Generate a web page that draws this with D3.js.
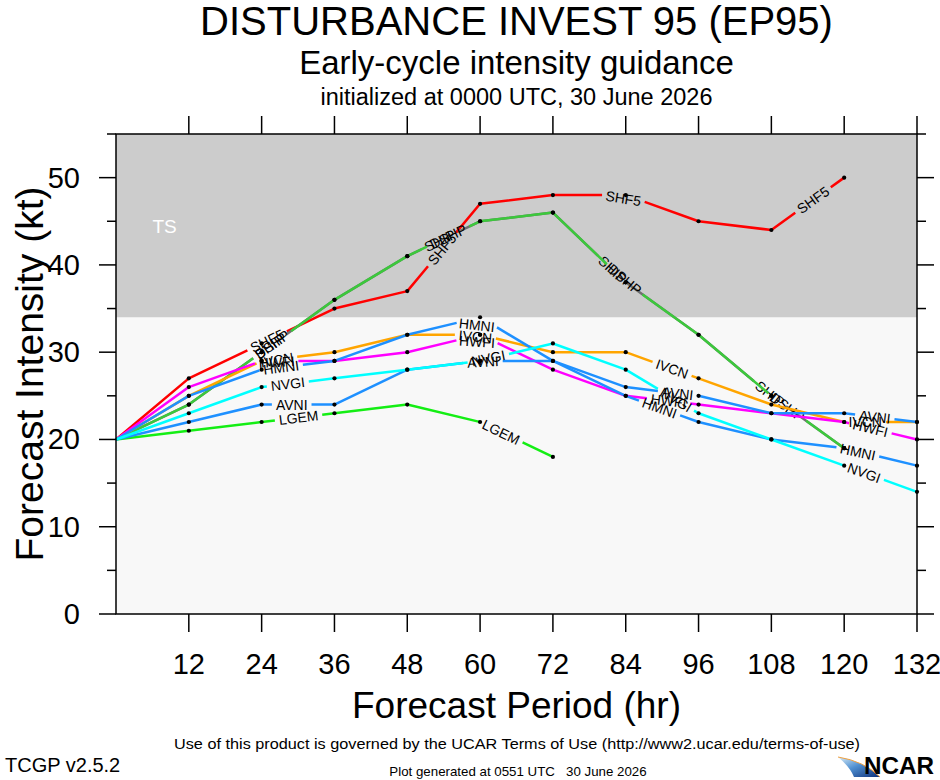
<!DOCTYPE html>
<html><head><meta charset="utf-8">
<script src="https://cdn.jsdelivr.net/npm/d3@7/dist/d3.min.js"></script>
<style>
body{margin:0;background:#fff}
svg{display:block}
text{font-family:"Liberation Sans",Arial,Helvetica,sans-serif;white-space:pre}
</style>
</head><body>
<svg id="chart" width="940" height="780"></svg>
<script>
// ---------------- data ----------------
const hours = [0, 12, 24, 36, 48, 60, 72, 84, 96, 108, 120, 132];
const xTickValues = [12, 24, 36, 48, 60, 72, 84, 96, 108, 120, 132];
const yTickValues = [0, 10, 20, 30, 40, 50];
const yMinorValues = [5, 15, 25, 35, 45, 55];
const modelNames = ["SHF5", "SHIP", "DSHP", "LGEM", "IVCN", "HWFI", "HMNI", "AVNI", "NVGI"];
const shf5 = [20, 27, 31, 35, 37, 47, 48, 48, 45, 44, 50, null];
const ship = [20, 24, 30, 36, 41, 45, 46, 38, 32, 25, 19, null];
const dshp = [20, 24, 30, 36, 41, 45, 46, 38, 32, 25, 19, null];
const lgem = [20, 21, 22, 23, 24, 22, 18, null, null, null, null, null];
const ivcn = [20, 25, 29, 30, 32, 32, 30, 30, 27, 24, 22, 22];
const hwfi = [20, 26, 29, 29, 30, 32, 28, 25, 24, 23, 22, 20];
const hmni = [20, 25, 28, 29, 32, 34, 29, 25, 22, 20, 19, 17];
const avni = [20, 22, 24, 24, 28, 29, 29, 26, 25, 23, 23, 22];
const nvgi = [20, 23, 26, 27, 28, 29, 31, 28, 23, 20, 17, 14];
const modelColors = ["#ff0000", "#707070", "#3cc83c", "#14ee14", "#ffa500", "#ff00ff", "#1e90ff", "#1e90ff", "#00ffff"];
const tsThreshold = 34;
const yMax = 55;
const xMax = 132;

const titleText = "DISTURBANCE INVEST 95 (EP95)";
const subTitleText = "Early-cycle intensity guidance";
const initText = "initialized at 0000 UTC, 30 June 2026";
const xAxisTitle = "Forecast Period (hr)";
const yAxisTitle = "Forecast Intensity (kt)";
const termsText = "Use of this product is governed by the UCAR Terms of Use (http://www2.ucar.edu/terms-of-use)";
const versionText = "TCGP v2.5.2";
const generatedText = "Plot generated at 0551 UTC   30 June 2026";

const seriesValues = [shf5, ship, dshp, lgem, ivcn, hwfi, hmni, avni, nvgi];

// ---------------- layout ----------------
const L = 116, R = 917, T = 134, B = 614;
const svg = d3.select("#chart");
const x = d3.scaleLinear().domain([0, xMax]).range([L, R]);
const y = d3.scaleLinear().domain([0, yMax]).range([B, T]);

// background bands
svg.append("rect").attr("x", L).attr("y", y(tsThreshold)).attr("width", R - L)
  .attr("height", y(0) - y(tsThreshold)).attr("fill", "#f8f8f8");
svg.append("rect").attr("x", L).attr("y", y(yMax)).attr("width", R - L)
  .attr("height", y(tsThreshold) - y(yMax)).attr("fill", "#cccccc");
svg.append("text").attr("x", x(8)).attr("y", y(44.4)).attr("text-anchor", "middle")
  .attr("dominant-baseline", "central").attr("fill", "#ffffff").attr("font-size", 19).text("TS");

// ---------------- lines with inline labels ----------------
const DASH = 160, PAD = 4, LABEL_SIZE = 14;
const lineGen = d3.line();
const gLines = svg.append("g");

function cum(pts) {
  const c = [0];
  for (let i = 1; i < pts.length; i++) c.push(c[i - 1] + Math.hypot(pts[i][0] - pts[i - 1][0], pts[i][1] - pts[i - 1][1]));
  return c;
}
function pointAt(pts, c, s) {
  for (let i = 0; i < pts.length - 1; i++) {
    if (s <= c[i + 1] || i === pts.length - 2) {
      const t = (s - c[i]) / (c[i + 1] - c[i]);
      return [pts[i][0] + t * (pts[i + 1][0] - pts[i][0]), pts[i][1] + t * (pts[i + 1][1] - pts[i][1])];
    }
  }
  return pts[pts.length - 1];
}
function sub(pts, c, s0, s1) {
  const out = [pointAt(pts, c, s0)];
  for (let i = 0; i < pts.length; i++) if (c[i] > s0 && c[i] < s1) out.push(pts[i]);
  out.push(pointAt(pts, c, s1));
  return out;
}

seriesValues.forEach((vals, k) => {
  const pts = [];
  vals.forEach((v, i) => { if (v !== null) pts.push([x(hours[i]), y(v)]); });
  const c = cum(pts);
  const total = c[c.length - 1];
  const g = gLines.append("g");
  const lab = g.append("text").attr("font-size", LABEL_SIZE).text(modelNames[k]);
  const w = lab.node().getComputedTextLength();
  lab.remove();
  const gap = w + 2 * PAD;
  let s = 0;
  while (s < total) {
    const e = Math.min(s + DASH, total);
    g.append("path").attr("d", lineGen(sub(pts, c, s, e))).attr("fill", "none")
      .attr("stroke", modelColors[k]).attr("stroke-width", 2.5).attr("stroke-linejoin", "round");
    if (e >= total || e + gap > total) break;
    const p0 = pointAt(pts, c, e), p1 = pointAt(pts, c, e + gap);
    let ang = Math.atan2(p1[1] - p0[1], p1[0] - p0[0]) * 180 / Math.PI;
    if (ang > 90) ang -= 180; if (ang < -90) ang += 180;
    const mx = (p0[0] + p1[0]) / 2, my = (p0[1] + p1[1]) / 2;
    g.append("text").attr("font-size", LABEL_SIZE).attr("fill", "#000")
      .attr("text-anchor", "middle").attr("dominant-baseline", "central")
      .attr("transform", `translate(${mx},${my}) rotate(${ang})`).text(modelNames[k]);
    s = e + gap;
  }
});

// markers
const gMarks = svg.append("g");
seriesValues.forEach(vals => {
  vals.forEach((v, i) => {
    if (v !== null && i > 0) gMarks.append("circle").attr("cx", x(hours[i])).attr("cy", y(v)).attr("r", 2.1).attr("fill", "#000");
  });
});

// ---------------- frame and axes ----------------
svg.append("rect").attr("x", L).attr("y", T).attr("width", R - L).attr("height", B - T)
  .attr("fill", "none").attr("stroke", "#000").attr("stroke-width", 1.5);

function tick(x1, y1, x2, y2) {
  svg.append("line").attr("x1", x1).attr("y1", y1).attr("x2", x2).attr("y2", y2)
    .attr("stroke", "#000").attr("stroke-width", 1.5);
}
yTickValues.forEach(v => { tick(L - 17, y(v), L, y(v)); tick(R, y(v), R + 17, y(v)); });
yMinorValues.forEach(v => { tick(L - 9, y(v), L, y(v)); tick(R, y(v), R + 9, y(v)); });
xTickValues.forEach(v => { tick(x(v), B, x(v), B + 18); tick(x(v), T - 18, x(v), T); });

const gy = svg.append("g");
yTickValues.forEach(v => {
  gy.append("text").attr("x", L - 36).attr("y", y(v)).attr("text-anchor", "end")
    .attr("dominant-baseline", "central").attr("font-size", 29).text(v);
});
xTickValues.forEach(v => {
  gy.append("text").attr("x", x(v)).attr("y", 674).attr("text-anchor", "middle")
    .attr("font-size", 29).text(v);
});

// titles
const cx = (L + R) / 2;
svg.append("text").attr("x", cx).attr("y", 35).attr("text-anchor", "middle").attr("font-size", 40).text(titleText);
svg.append("text").attr("x", cx).attr("y", 74).attr("text-anchor", "middle").attr("font-size", 33).text(subTitleText);
svg.append("text").attr("x", cx).attr("y", 105).attr("text-anchor", "middle").attr("font-size", 23.5).text(initText);
svg.append("text").attr("x", cx).attr("y", 718).attr("text-anchor", "middle").attr("font-size", 37).text(xAxisTitle);
svg.append("text").attr("transform", `translate(43,${(T + B) / 2}) rotate(-90)`).attr("text-anchor", "middle")
  .attr("font-size", 39).text(yAxisTitle);
svg.append("text").attr("x", 517).attr("y", 749).attr("text-anchor", "middle").attr("font-size", 15.5)
  .attr("textLength", 686).attr("lengthAdjust", "spacingAndGlyphs").text(termsText);
svg.append("text").attr("x", 5).attr("y", 772).attr("font-size", 20).text(versionText);
svg.append("text").attr("x", 518).attr("y", 776).attr("text-anchor", "middle").attr("font-size", 13.3).text(generatedText);

// NCAR logo
const defs = svg.append("defs");
const grad = defs.append("linearGradient").attr("id", "ncarGrad").attr("x1", "0").attr("y1", "0").attr("x2", "1").attr("y2", "1");
grad.append("stop").attr("offset", "0").attr("stop-color", "#d8ecf8");
grad.append("stop").attr("offset", "0.45").attr("stop-color", "#4f8fd0");
grad.append("stop").attr("offset", "1").attr("stop-color", "#0d2f7a");
svg.append("path").attr("d", "M838,757 Q864,761 880,777 L854,777 Q850,767 838,757 Z").attr("fill", "url(#ncarGrad)");
svg.append("path").attr("d", "M838,757 Q864,761 880,777").attr("fill", "none").attr("stroke", "#f0a040").attr("stroke-width", 1);
svg.append("text").attr("x", 864).attr("y", 774).attr("font-size", 24).attr("font-weight", "bold")
  .attr("textLength", 70).attr("lengthAdjust", "spacingAndGlyphs").text("NCAR");
</script>
</body></html>
